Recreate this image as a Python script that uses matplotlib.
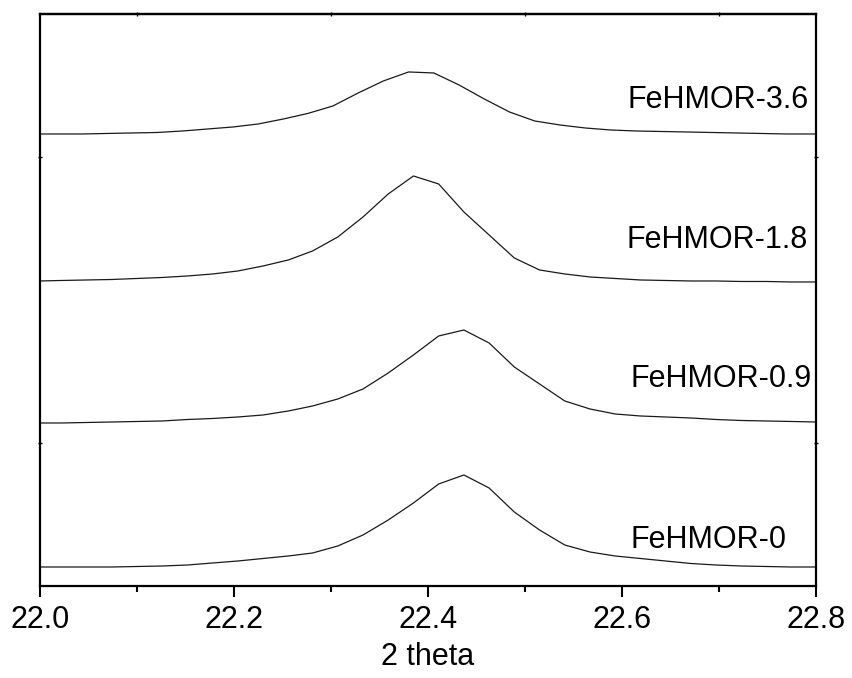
import numpy as np
from matplotlib import pyplot as plt
from matplotlib.ticker import MultipleLocator

plt.rcParams['font.family'] = ['Liberation Sans', 'DejaVu Sans']

# 2 theta positions of the recorded points (two slightly shifted scans)
theta_a = [22.000, 22.017, 22.043, 22.069, 22.095, 22.121, 22.147, 22.173, 22.199,
           22.225, 22.251, 22.276, 22.302, 22.328, 22.354, 22.380, 22.406, 22.432,
           22.458, 22.484, 22.510, 22.536, 22.562, 22.588, 22.614, 22.640, 22.666,
           22.692, 22.718, 22.744, 22.770, 22.796, 22.800]
theta_b = [22.000, 22.022, 22.048, 22.074, 22.100, 22.126, 22.152, 22.178, 22.204,
           22.230, 22.256, 22.281, 22.307, 22.333, 22.359, 22.385, 22.411, 22.437,
           22.463, 22.489, 22.515, 22.541, 22.567, 22.593, 22.619, 22.645, 22.671,
           22.697, 22.723, 22.749, 22.775, 22.800]

# stacked intensities (offset included), arbitrary units
fe36 = [452, 452, 452, 452.5, 453, 453.5, 455, 457, 459, 462, 467, 472.5, 480,
        493, 505, 514, 513, 501, 487, 474, 465, 461, 458, 456, 455, 454.5, 454,
        453.5, 453, 452.5, 452, 452, 452]
fe18 = [305, 305.5, 306, 306.5, 307.5, 308.5, 310, 312, 315, 320, 326, 335, 349,
        369, 392, 410, 402, 374, 351, 328, 316, 312, 309, 307.5, 306, 305.5, 305,
        305, 304.5, 304.5, 304, 304]
fe09 = [163, 163, 163.5, 164, 164.5, 165, 166.5, 167.5, 169, 171, 175, 180, 187,
        197, 213, 231, 250, 256, 243, 219, 202, 185, 177, 172, 170, 169, 168,
        166.5, 165.5, 165, 164.5, 164]
fe0 = [19, 19, 19, 19, 19.5, 20, 21, 23, 25, 27.5, 30, 33, 40, 51, 66, 83, 102,
       111, 98, 74, 56, 41, 34, 30, 27.5, 25, 22.5, 21, 20, 19.5, 19, 19]

names = ['FeHMOR-3.6', 'FeHMOR-1.8', 'FeHMOR-0.9', 'FeHMOR-0']
label_pos = [(22.793, 486), (22.792, 346), (22.796, 207), (22.770, 46)]

fig = plt.figure(figsize=(8.53, 6.78), dpi=100)
ax = fig.add_axes([0.0469, 0.1357, 0.9097, 0.8437])

for x, y in [(theta_a, fe36), (theta_b, fe18), (theta_b, fe09), (theta_b, fe0)]:
    ax.plot(x, y, color='#1a1a1a', linewidth=0.9)

for name, (lx, ly) in zip(names, label_pos):
    ax.text(lx, ly, name, fontsize=22, ha='right', va='center', color='black')

ax.set_xlim(22.0, 22.8)
ax.set_ylim(0, 572)
ax.set_xticks([22.0, 22.2, 22.4, 22.6, 22.8])
ax.set_xticklabels(['22.0', '22.2', '22.4', '22.6', '22.8'])
ax.xaxis.set_minor_locator(MultipleLocator(0.1))
ax.set_yticks([143, 429])
ax.set_yticklabels([])

ax.tick_params(axis='x', which='major', direction='out', length=8, width=1.5,
               labelsize=22, pad=6)
ax.tick_params(axis='x', which='minor', direction='out', length=4.5, width=1.5)
ax.tick_params(axis='y', direction='inout', length=3, width=1, right=True)

# tiny marks on the top frame
top = ax.secondary_xaxis('top')
top.set_xticks([22.1, 22.3, 22.5, 22.7])
top.set_xticklabels([])
top.tick_params(direction='inout', length=3, width=1)

for s in ax.spines.values():
    s.set_linewidth(1.6)
top.spines['top'].set_linewidth(1.6)

ax.set_xlabel('2 theta', fontsize=22, labelpad=5)

plt.savefig('out.png', dpi=100)
